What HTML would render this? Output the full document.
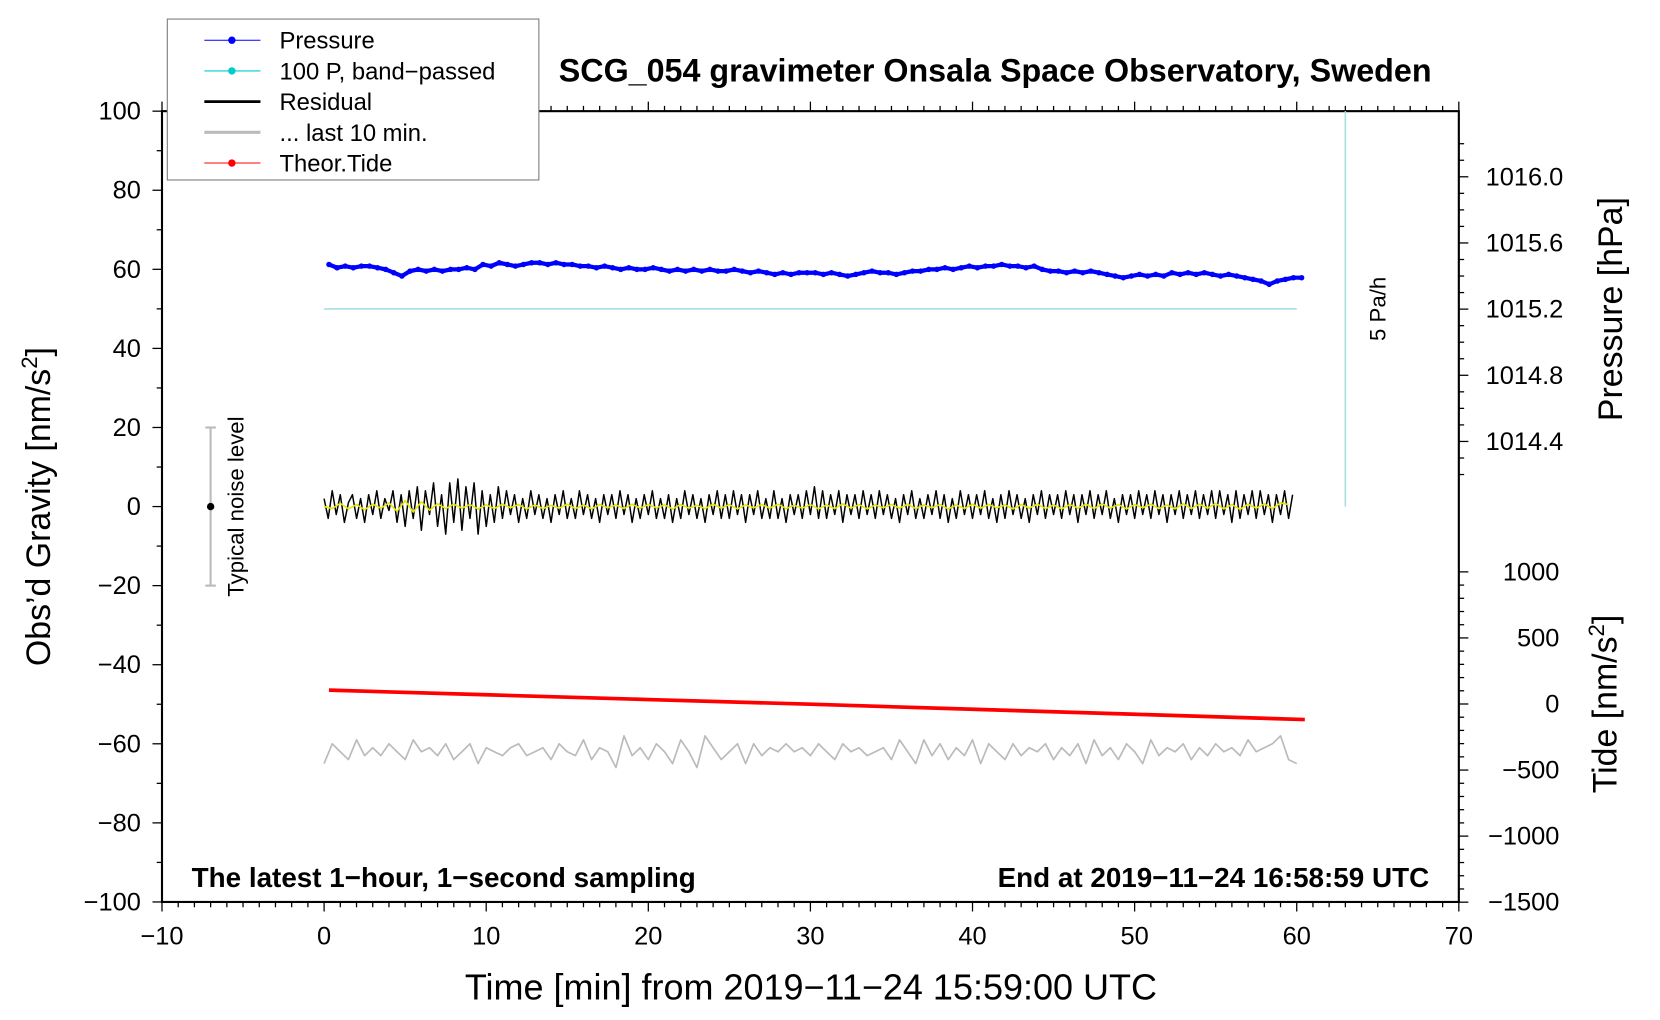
<!DOCTYPE html>
<html><head><meta charset="utf-8"><style>
html,body{margin:0;padding:0;background:#fff;}
svg{display:block;font-family:"Liberation Sans",Arial,sans-serif;}
</style></head><body>
<svg id="chart" width="1660" height="1020" viewBox="0 0 1568 963.5" xmlns="http://www.w3.org/2000/svg">
<g id="plot"></g>
</svg>
<script>
// ---- data ----
const xTicks=[-10,0,10,20,30,40,50,60,70];
const yTicks=[100,80,60,40,20,0,-20,-40,-60,-80,-100];
const pTicks=[1016.0,1015.6,1015.2,1014.8,1014.4];
const tideTicks=[1000,500,0,-500,-1000,-1500];
const pressureT0=0.3, pressureDt=0.5;
const pressure=[1015.47,1015.45,1015.46,1015.45,1015.46,1015.46,1015.45,1015.44,1015.42,1015.40,1015.43,1015.44,1015.43,1015.44,1015.43,1015.44,1015.44,1015.45,1015.44,1015.47,1015.46,1015.48,1015.47,1015.46,1015.47,1015.48,1015.48,1015.47,1015.48,1015.47,1015.47,1015.46,1015.46,1015.45,1015.46,1015.45,1015.44,1015.45,1015.44,1015.44,1015.45,1015.44,1015.43,1015.44,1015.43,1015.44,1015.43,1015.44,1015.43,1015.43,1015.44,1015.43,1015.42,1015.43,1015.42,1015.41,1015.42,1015.41,1015.42,1015.42,1015.42,1015.41,1015.42,1015.41,1015.40,1015.41,1015.42,1015.43,1015.42,1015.42,1015.41,1015.42,1015.43,1015.43,1015.44,1015.44,1015.45,1015.44,1015.45,1015.46,1015.45,1015.46,1015.46,1015.47,1015.46,1015.46,1015.45,1015.46,1015.44,1015.43,1015.43,1015.42,1015.43,1015.42,1015.43,1015.42,1015.41,1015.40,1015.39,1015.40,1015.41,1015.40,1015.41,1015.40,1015.42,1015.41,1015.42,1015.41,1015.42,1015.41,1015.40,1015.41,1015.40,1015.39,1015.38,1015.37,1015.35,1015.37,1015.38,1015.39,1015.39];
const residualDt=0.25;
const residual=[2,-3,4,-2,3,-4,1,3,-3,2,-4,3,-2,4,-3,2,-1,4,-4,3,
-5,4,-3,5,-6,4,-2,6,-5,3,-7,6,-4,7,-6,5,-3,6,-7,4,
-5,3,-4,5,-3,4,-2,3,-4,2,-3,4,-2,3,-3,2,-4,3,-2,4,
-3,2,-3,4,-2,3,-3,2,-4,3,-2,3,-3,4,-2,3,-4,2,-3,3,
-2,4,-3,2,-3,3,-4,2,-3,4,-2,3,-3,2,-4,3,-2,4,-3,3,
-3,4,-2,3,-4,3,-2,4,-3,2,-3,4,-3,2,-4,3,-2,3,-3,4,
-2,5,-3,4,-3,3,-2,4,-4,3,-2,3,-3,4,-2,3,-3,4,-2,3,
-3,2,-4,3,-2,4,-3,2,-3,3,-2,4,-3,3,-4,2,-3,4,-2,3,
-3,3,-2,4,-3,2,-4,3,-3,4,-2,3,-3,2,-4,3,-2,4,-3,3,
-2,3,-3,4,-2,3,-4,3,-2,4,-3,3,-2,4,-3,2,-4,3,-2,3,
-3,4,-2,3,-3,4,-2,3,-4,3,-2,4,-3,3,-2,4,-3,3,-2,4,
-3,4,-2,3,-4,4,-3,3,-2,4,-3,4,-2,3,-4,3,-2,4,-3,3];
const filteredDt=0.5;
const filtered=[0,-0.5,0.8,-0.6,0.5,-0.8,0.6,-0.4,0.9,-1.2,1.5,-1.4,1.2,-0.9,0.7,-0.5,0.6,-0.4,0.5,-0.6,0.4,-0.5,0.6,-0.3,0.5,-0.6,0.4,-0.5,0.3,-0.4,0.6,-0.5,0.4,-0.6,0.5,-0.3,0.4,-0.5,0.6,-0.4,0.5,-0.3,0.4,-0.6,0.5,-0.4,0.3,-0.5,0.6,-0.4,0.5,-0.6,0.4,-0.3,0.5,-0.4,0.6,-0.5,0.3,-0.4,0.5,-0.6,0.4,-0.5,0.7,-0.4,0.5,-0.6,0.4,-0.3,0.5,-0.4,0.6,-0.5,0.4,-0.3,0.5,-0.6,0.4,-0.5,0.6,-0.4,0.5,-0.3,0.4,-0.6,0.5,-0.4,0.6,-0.5,0.4,-0.6,0.5,-0.4,0.6,-0.5,0.7,-0.4,0.5,-0.6,0.5,-0.3,0.6,-0.5,0.4,-0.6,0.7,-0.5,0.6,-0.4,0.8,-0.6,0.5,-0.7,0.6,-0.4,0.7,-0.5,0.9,0.5];
const lastDt=0.5;
const last10=[-65,-60,-62,-64,-59,-63,-61,-63,-60,-62,-64,-59,-62,-61,-63,-60,-64,-62,-60,-65,-61,-62,-63,-61,-60,-63,-62,-61,-64,-60,-62,-63,-59,-64,-61,-62,-66,-58,-63,-61,-64,-60,-62,-65,-59,-62,-66,-58,-61,-64,-62,-60,-65,-60,-63,-61,-62,-60,-62,-61,-63,-60,-62,-64,-60,-62,-61,-63,-62,-61,-64,-59,-62,-65,-59,-63,-60,-64,-61,-63,-59,-65,-60,-62,-64,-60,-63,-61,-62,-60,-64,-61,-63,-60,-65,-59,-63,-61,-64,-60,-62,-65,-59,-63,-61,-62,-60,-64,-61,-63,-60,-62,-61,-63,-59,-62,-61,-60,-58,-64,-65];
const tideT=[0.3,10,20,30,40,50,60.5];
const tide=[105,70,34,-2,-40,-78,-118];

// ---- geometry ----
const L=153,R=1378,T=105,B=852;
const X=v=>L+(v+10)/80*(R-L);
const Y=v=>T+(100-v)/200*(B-T);
const YP=p=>167+(1016.0-p)/0.4*62.5;
const YT=t=>665-t/500*62.4;
const NS='http://www.w3.org/2000/svg';
const g=document.getElementById('plot');
function el(tag,attrs,parent){const e=document.createElementNS(NS,tag);for(const k in attrs)e.setAttribute(k,attrs[k]);(parent||g).appendChild(e);return e;}
function txt(s,attrs){const e=el('text',attrs);e.textContent=s;return e;}
function poly(pts,stroke,w,name){const e=el('polyline',{points:pts.map(p=>p[0].toFixed(1)+','+p[1].toFixed(1)).join(' '),fill:'none',stroke:stroke,'stroke-width':w,'stroke-linejoin':'round'});return e;}

const fr=el('rect',{x:L,y:T,width:R-L,height:B-T,fill:'none',stroke:'#000','stroke-width':2});


for(let m=-10;m<=70;m++){const maj=m%10===0;
 el('line',{x1:X(m),x2:X(m),y1:B,y2:B+(maj?9:5),stroke:'#000','stroke-width':1.2});
 el('line',{x1:X(m),x2:X(m),y1:T,y2:T-(maj?9:5),stroke:'#000','stroke-width':1.2});}
xTicks.forEach(v=>{const t=txt((v<0?'\u2212':'')+Math.abs(v),{x:X(v),y:B+40,'font-size':24,'text-anchor':'middle'});});
for(let v=-100;v<=100;v+=10){const maj=v%20===0;el('line',{x1:L,x2:L-(maj?9:5),y1:Y(v),y2:Y(v),stroke:'#000','stroke-width':1.2});}
yTicks.forEach(v=>{const t=txt((v<0?'\u2212':'')+Math.abs(v),{x:L-20,y:Y(v)+8,'font-size':24,'text-anchor':'end'});});
for(let p=1014.2;p<=1016.21;p+=0.1){const maj=Math.round(p*10)%4===0;el('line',{x1:R,x2:R+(maj?9:5),y1:YP(p),y2:YP(p),stroke:'#000','stroke-width':1.2});}
pTicks.forEach(p=>{const t=txt(p.toFixed(1),{x:R+62,y:YP(p)+8,'font-size':24,'text-anchor':'middle'});});
for(let t=-1500;t<=1000;t+=100){const maj=t%500===0;el('line',{x1:R,x2:R+(maj?9:5),y1:YT(t),y2:YT(t),stroke:'#000','stroke-width':1.2});}
tideTicks.forEach(v=>{const t=txt((v<0?'\u2212':'')+Math.abs(v),{x:R+95,y:YT(v)+8,'font-size':24,'text-anchor':'end'});});

poly([[X(0),Y(50)],[X(60),Y(50)]],'#a8dede',1.5,'band-passed-pressure-line');
poly([[X(63),Y(100)],[X(63),Y(0)]],'#a8dede',1.5,'scale-bar-5pa');
const pp=pressure.map((p,i)=>[X(pressureT0+i*pressureDt),YP(p)]);
poly(pp,'#0000ff',4,'pressure-line');
pp.forEach(p=>{const c=el('circle',{cx:p[0],cy:p[1],r:2.6,fill:'#0000ff'});});
poly(residual.map((v,i)=>[X(i*residualDt),Y(v)]),'#000',1.4,'residual-line');
poly(filtered.map((v,i)=>[X(i*filteredDt),Y(v)]),'#e6e600',1.5,'filtered-residual-line');
poly(last10.map((v,i)=>[X(i*lastDt),Y(v)]),'#bbbbbb',1.6,'last-10-min-line');
poly(tideT.map((t,i)=>[X(t),YT(tide[i])]),'#ff0000',3.5,'theoretical-tide-line');

poly([[X(-7),Y(20)],[X(-7),Y(-20)]],'#bbb',2,'noise-level-bar');
poly([[X(-7)-5,Y(20)],[X(-7)+5,Y(20)]],'#bbb',2,'noise-cap-top');
poly([[X(-7)-5,Y(-20)],[X(-7)+5,Y(-20)]],'#bbb',2,'noise-cap-bottom');
const nd=el('circle',{cx:X(-7),cy:Y(0),r:3.5,fill:'#000'});


let t1=txt('Typical noise level',{x:0,y:0,'font-size':21,transform:`translate(${X(-7)+31},${Y(0)}) rotate(-90)`,'text-anchor':'middle'});

t1=txt('5 Pa/h',{x:0,y:0,'font-size':21,transform:`translate(${X(63)+38},${Y(50)}) rotate(-90)`,'text-anchor':'middle'});


t1=txt('SCG_054 gravimeter Onsala Space Observatory, Sweden',{x:940,y:77,'font-size':30.5,'font-weight':'bold','text-anchor':'middle'});
t1=txt('The latest 1\u2212hour, 1\u2212second sampling',{x:181,y:838,'font-size':26.3,'font-weight':'bold'});
t1=txt('End at 2019\u221211\u221224 16:58:59 UTC',{x:1350,y:838,'font-size':26.3,'font-weight':'bold','text-anchor':'end'});
t1=txt('Time [min] from 2019\u221211\u221224 15:59:00 UTC',{x:766,y:944,'font-size':34,'text-anchor':'middle'});
t1=el('text',{x:0,y:0,'font-size':32,transform:`translate(47,${Y(0)}) rotate(-90)`,'text-anchor':'middle'});t1.innerHTML='Obs’d Gravity [nm/s<tspan dy="-12" font-size="21">2</tspan><tspan dy="12">]</tspan>';
t1=txt('Pressure [hPa]',{x:0,y:0,'font-size':32,transform:`translate(1532,292) rotate(-90)`,'text-anchor':'middle'});
t1=el('text',{x:0,y:0,'font-size':32,transform:`translate(1527,665) rotate(-90)`,'text-anchor':'middle'});t1.innerHTML='Tide [nm/s<tspan dy="-12" font-size="21">2</tspan><tspan dy="12">]</tspan>';

const lg=el('g',{});


el('rect',{x:158,y:18,width:351,height:152,fill:'#fff',stroke:'#777','stroke-width':1},lg);
const leg=[['Pressure','#0000ff',1,true],['100 P, band\u2212passed','#00cccc',1,true],['Residual','#000',2.5,false],['... last 10 min.','#bbb',3,false],['Theor.Tide','#ff0000',1,true]];
leg.forEach((e,i)=>{const y=38+i*29;
 const it=el('g',{},lg);
 el('line',{x1:193,x2:246,y1:y,y2:y,stroke:e[1],'stroke-width':e[2]},it);
 if(e[3])el('circle',{cx:219,cy:y,r:3.5,fill:e[1]},it);
 const t=el('text',{x:264,y:y+8,'font-size':22.5},it);t.textContent=e[0];});
</script>
</body></html>
